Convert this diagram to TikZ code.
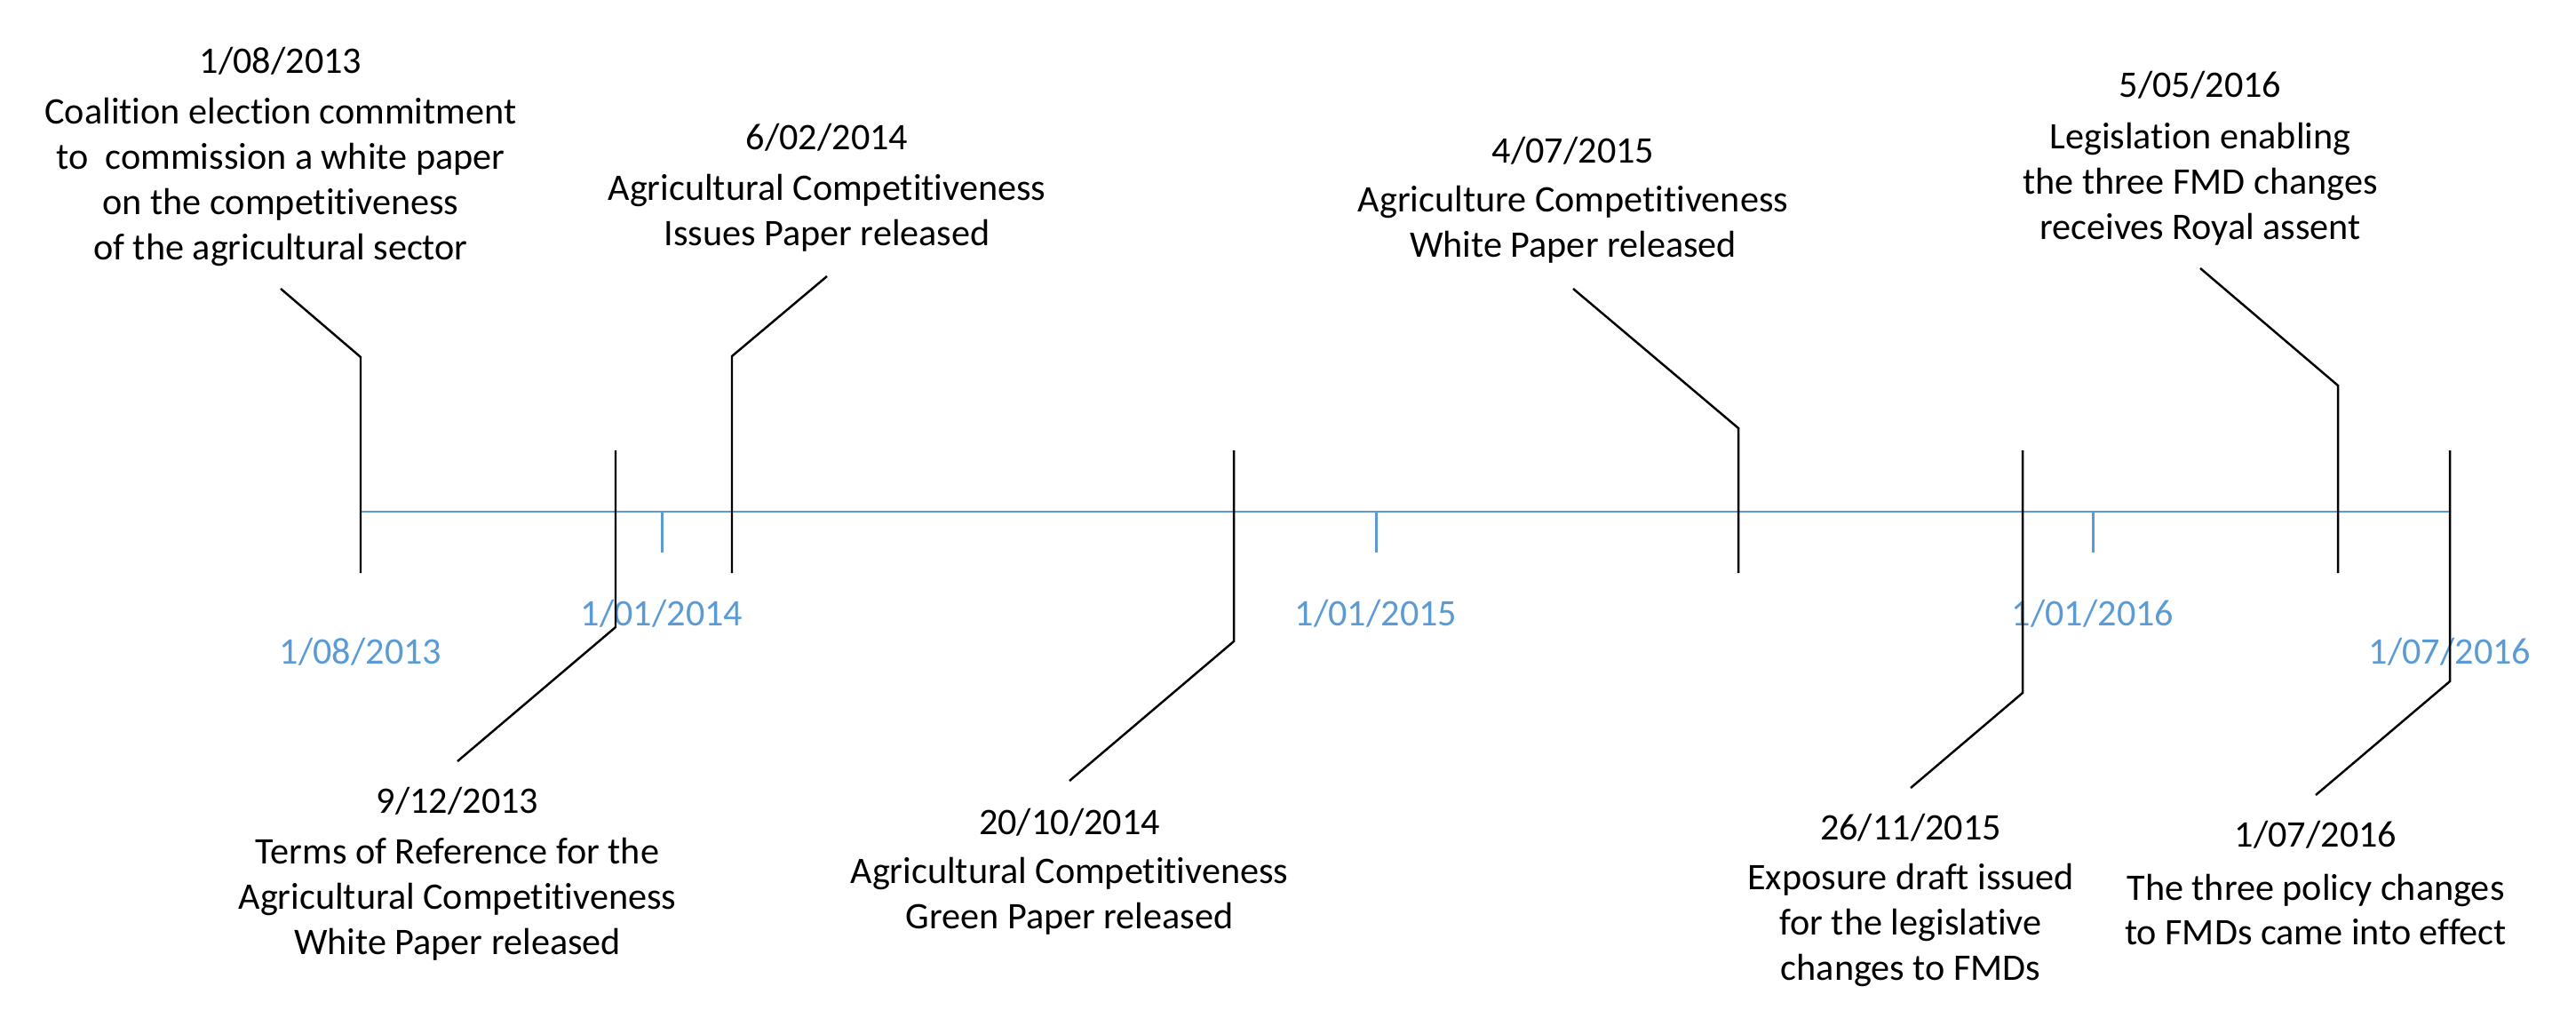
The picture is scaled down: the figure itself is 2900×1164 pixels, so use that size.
\documentclass[tikz,border=0pt]{standalone}
\usepackage{fontspec}
\setmainfont{Carlito}[Ligatures={NoCommon}]
\definecolor{axisblue}{RGB}{91,155,213}
\begin{document}
\begin{tikzpicture}[x=0.01cm,y=-0.01cm,
  lead/.style={draw=black,line width=0.7pt},
  axisline/.style={draw=axisblue,line width=0.85pt},
  evtext/.style={font=\fontsize{12}{14.5}\selectfont,align=center,inner sep=0pt},
  axlabel/.style={font=\fontsize{12}{14.5}\selectfont,text=axisblue,inner sep=0pt}]
\useasboundingbox (0,0) rectangle (2900,1164);

% axis
\coordinate (a0) at (406,576);
\coordinate (a1) at (2758,576);
\draw[axisline] (a0) -- (a1);

% ticks
\coordinate (t14a) at (745,576);  \coordinate (t14b) at (745,622);
\coordinate (t15a) at (1549,576); \coordinate (t15b) at (1549,622);
\coordinate (t16a) at (2356,576); \coordinate (t16b) at (2356,622);
\draw[axisline] (t14a) -- (t14b);
\draw[axisline] (t15a) -- (t15b);
\draw[axisline] (t16a) -- (t16b);

% axis labels
\node[axlabel] (l13) at (406,734) {1/08/2013};
\node[axlabel] (l14) at (745,691) {1/01/2014};
\node[axlabel] (l15) at (1549,691) {1/01/2015};
\node[axlabel] (l16) at (2356,691) {1/01/2016};
\node[axlabel] (l16b) at (2758,734) {1/07/2016};

% event 1
\node[evtext] (d1) at (316,69) {1/08/2013};
\node[evtext] (e1) at (316,205) {Coalition election commitment\\to\ \ commission a white paper\\on the competitiveness\\of the agricultural sector};
\coordinate (p1a) at (316,325); \coordinate (p1b) at (406,402); \coordinate (p1c) at (406,645);
\draw[lead] (p1a) -- (p1b) -- (p1c);

% event 2
\node[evtext] (d2) at (515,902) {9/12/2013};
\node[evtext] (e2) at (515,1012) {Terms of Reference for the\\Agricultural Competitiveness\\White Paper released};
\coordinate (p2a) at (515,857); \coordinate (p2b) at (693,706); \coordinate (p2c) at (693,507);
\draw[lead] (p2a) -- (p2b) -- (p2c);

% event 3
\node[evtext] (d3) at (931,155) {6/02/2014};
\node[evtext] (e3) at (931,240) {Agricultural Competitiveness\\Issues Paper released};
\coordinate (p3a) at (931,311); \coordinate (p3b) at (824,401); \coordinate (p3c) at (824,645);
\draw[lead] (p3a) -- (p3b) -- (p3c);

% event 4
\node[evtext] (d4) at (1204,926) {20/10/2014};
\node[evtext] (e4) at (1204,1009) {Agricultural Competitiveness\\Green Paper released};
\coordinate (p4a) at (1204,879); \coordinate (p4b) at (1389,722); \coordinate (p4c) at (1389,507);
\draw[lead] (p4a) -- (p4b) -- (p4c);

% event 5
\node[evtext] (d5) at (1771,170) {4/07/2015};
\node[evtext] (e5) at (1771,253) {Agriculture Competitiveness\\White Paper released};
\coordinate (p5a) at (1771,325); \coordinate (p5b) at (1957,482); \coordinate (p5c) at (1957,645);
\draw[lead] (p5a) -- (p5b) -- (p5c);

% event 6
\node[evtext] (d6) at (2151,932) {26/11/2015};
\node[evtext] (e6) at (2151,1041) {Exposure draft issued\\for the legislative\\changes to FMDs};
\coordinate (p6a) at (2151,887); \coordinate (p6b) at (2277,780); \coordinate (p6c) at (2277,507);
\draw[lead] (p6a) -- (p6b) -- (p6c);

% event 7
\node[evtext] (d7) at (2477,96) {5/05/2016};
\node[evtext] (e7) at (2477,207) {Legislation enabling\\the three FMD changes\\receives Royal assent};
\coordinate (p7a) at (2477,302); \coordinate (p7b) at (2632,434); \coordinate (p7c) at (2632,645);
\draw[lead] (p7a) -- (p7b) -- (p7c);

% event 8
\node[evtext] (d8) at (2607,940) {1/07/2016};
\node[evtext] (e8) at (2607,1024) {The three policy changes\\to FMDs came into effect};
\coordinate (p8a) at (2607,895); \coordinate (p8b) at (2758,767); \coordinate (p8c) at (2758,507);
\draw[lead] (p8a) -- (p8b) -- (p8c);
\end{tikzpicture}
\end{document}
